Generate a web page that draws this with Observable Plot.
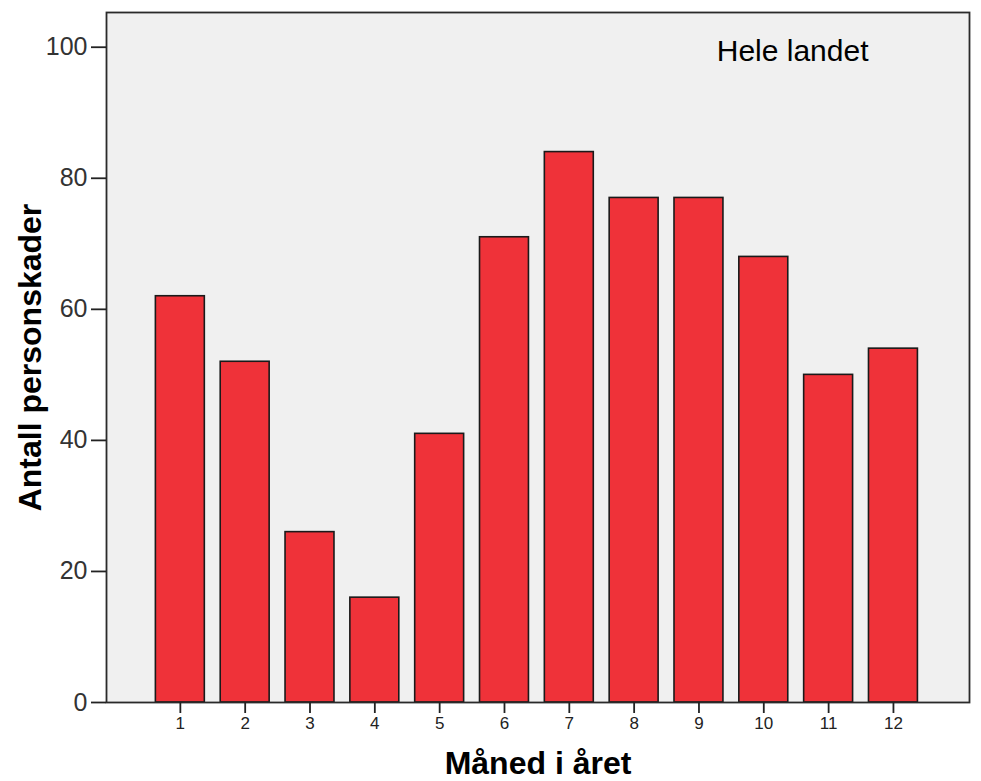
<!DOCTYPE html>
<html>
<head>
<meta charset="utf-8">
<script src="https://cdn.jsdelivr.net/npm/d3@7"></script>
<script src="https://cdn.jsdelivr.net/npm/@observablehq/plot@0.6"></script>
<style>
  html, body { margin: 0; padding: 0; background: #ffffff; }
  #chart svg { display: block; }
  #chart g[aria-label="y-axis tick label"] { font-size: 25px; }
  #chart g[aria-label="y-axis tick label"] text { font-size: 25px; }
  #chart g[aria-label="x-axis tick label"] { font-size: 17px; }
  #chart g[aria-label="x-axis tick label"] text { font-size: 17px; }
</style>
</head>
<body>
<div id="chart"></div>
<script>
const months = [1, 2, 3, 4, 5, 6, 7, 8, 9, 10, 11, 12];
const counts = [62, 52, 26, 16, 41, 71, 84, 77, 77, 68, 50, 54];
const yTicks = [0, 20, 40, 60, 80, 100];
const yLabel = "Antall personskader";
const xLabel = "Måned i året";
const panelLabel = "Hele landet";

const data = months.map((m, i) => ({month: m, count: counts[i]}));

const chart = Plot.plot({
  width: 981,
  height: 781,
  marginLeft: 106,
  marginRight: 12,
  marginTop: 12,
  marginBottom: 79,
  style: {fontFamily: "'Liberation Sans', Arial, sans-serif", background: "#ffffff", overflow: "visible"},
  x: {type: "band", domain: months, round: false, paddingInner: 0.245, paddingOuter: 0.12, insetLeft: 41.6, insetRight: 43.8, label: null},
  y: {domain: [0, 105.3], label: null},
  marks: [
    Plot.frame({fill: "#f0f0f0", stroke: null}),
    Plot.barY(data, {x: "month", y: "count", fill: "#ef3239", stroke: "#1a1a1a", strokeWidth: 1.6}),
    Plot.frame({stroke: "#2a2a2a", strokeWidth: 1.8}),
    Plot.axisY({ticks: yTicks, tickSize: 15, tickPadding: 4, fontSize: 25, color: "#333", stroke: "#222", strokeWidth: 1.8, label: null}),
    Plot.axisX({tickSize: 11, tickPadding: 3, fontSize: 17, color: "#222", stroke: "#222", strokeWidth: 1.8, label: null}),
    Plot.text([yLabel], {text: d => d, frameAnchor: "left", dx: -76, rotate: -90, fontSize: 32, fontWeight: "bold", fill: "#000", textAnchor: "middle", lineAnchor: "middle"}),
    Plot.text([xLabel], {text: d => d, frameAnchor: "bottom", dy: 61, fontSize: 32, fontWeight: "bold", fill: "#000", textAnchor: "middle", lineAnchor: "middle"}),
    Plot.text([panelLabel], {text: d => d, frameAnchor: "top-right", dx: -101, dy: 39, fontSize: 30, fill: "#000", textAnchor: "end", lineAnchor: "middle"})
  ]
});
document.getElementById("chart").appendChild(chart);
</script>
</body>
</html>
